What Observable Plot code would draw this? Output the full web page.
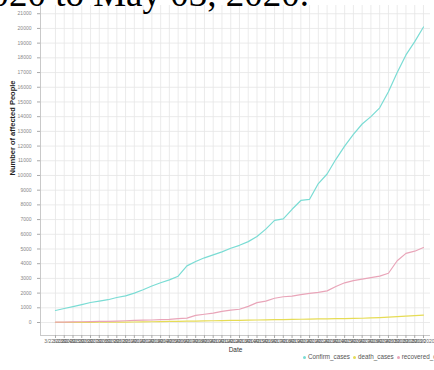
<!DOCTYPE html>
<html>
<head>
<meta charset="utf-8">
<script src="https://cdn.jsdelivr.net/npm/d3@7"></script>
<script src="https://cdn.jsdelivr.net/npm/@observablehq/plot@0.6"></script>
<style>
  html, body { margin: 0; padding: 0; background: #fff; width: 434px; height: 370px; overflow: hidden; position: relative; }
  #title { position: absolute; top: -25px; right: 125px; white-space: nowrap; font-family: "Liberation Serif", serif; font-size: 37px; line-height: 1; color: #000; z-index: 2; }
  #chart { position: absolute; top: 0; left: 0; }
  #legend { position: absolute; top: 353px; left: 300px; white-space: nowrap; font-family: "Liberation Sans", sans-serif; font-size: 6.3px; color: #555; }
  #legend span.sw { display: inline-block; width: 3px; height: 3px; border-radius: 50%; margin: 0 2px 0 3px; vertical-align: middle; }
</style>
</head>
<body>
<div id="title">Number of affected people from March 22, 2020 to May 03, 2020.</div>
<div id="chart"></div>
<div id="legend"></div>
<script>
const dates = ["2020-03-22","2020-03-23","2020-03-24","2020-03-25","2020-03-26","2020-03-27","2020-03-28","2020-03-29","2020-03-30","2020-03-31",
  "2020-04-01","2020-04-02","2020-04-03","2020-04-04","2020-04-05","2020-04-06","2020-04-07","2020-04-08","2020-04-09","2020-04-10",
  "2020-04-11","2020-04-12","2020-04-13","2020-04-14","2020-04-15","2020-04-16","2020-04-17","2020-04-18","2020-04-19","2020-04-20",
  "2020-04-21","2020-04-22","2020-04-23","2020-04-24","2020-04-25","2020-04-26","2020-04-27","2020-04-28","2020-04-29","2020-04-30",
  "2020-05-01","2020-05-02","2020-05-03"];
const confirmCases = [816,950,1080,1220,1360,1460,1550,1700,1810,2000,
  2230,2480,2700,2900,3150,3850,4150,4400,4600,4800,
  5050,5250,5500,5850,6350,6950,7050,7700,8300,8380,
  9450,10100,11100,12000,12800,13500,14000,14600,15700,17000,
  18200,19100,20100];
const deathCases = [5,8,10,12,15,18,20,25,30,35,
  40,50,60,70,80,90,100,110,120,130,
  140,150,160,170,180,190,200,210,220,230,
  240,250,260,270,280,290,310,330,360,400,
  430,470,500];
const recoveredCases = [20,30,40,50,60,70,80,100,120,140,
  160,170,190,210,260,300,480,560,640,760,
  840,900,1100,1350,1450,1650,1750,1800,1900,1980,
  2050,2150,2450,2700,2850,2950,3050,3150,3350,4200,
  4700,4850,5100];
const seriesNames = ["Confirm_cases","death_cases","recovered_cases"];
const seriesColors = ["#7adcd4","#e6dc55","#e9a5b9"];
const yTicks = d3.range(0, 21001, 1000);

const parse = d3.utcParse("%Y-%m-%d");
const dateObjs = dates.map(parse);
const rows = [];
[confirmCases, deathCases, recoveredCases].forEach((arr, k) => {
  arr.forEach((v, i) => rows.push({date: dateObjs[i], value: v, series: seriesNames[k]}));
});
const day = 864e5;
const xDomain = [new Date(+dateObjs[0] - 1.71 * day), new Date(+dateObjs[dateObjs.length - 1] + 0.8 * day)];
const yDomain = [-884, 21560];

const chart = Plot.plot({
  width: 434,
  height: 356,
  marginLeft: 40,
  marginRight: 4,
  marginTop: 5,
  marginBottom: 21,
  style: {fontFamily: "Liberation Sans, sans-serif", fontSize: "5px", background: "transparent", color: "#777"},
  x: {type: "utc", domain: xDomain},
  y: {domain: yDomain},
  color: {domain: seriesNames, range: seriesColors},
  marks: [
    Plot.ruleY(yTicks, {stroke: "#e6e6e6", strokeWidth: 0.8}),
    Plot.ruleX(dateObjs, {stroke: "#e6e6e6", strokeWidth: 0.8}),
    Plot.ruleX([xDomain[0]], {stroke: "#bbb", strokeWidth: 0.8}),
    Plot.ruleY([yDomain[0]], {stroke: "#bbb", strokeWidth: 0.8}),
    Plot.axisY({ticks: yTicks, tickFormat: d => String(d), tickSize: 3, label: null, stroke: "#aaa", fill: "#888"}),
    Plot.axisX({ticks: dateObjs, tickFormat: d3.utcFormat("%-m/%d/%Y"), tickSize: 3, tickPadding: 1, label: null, stroke: "#aaa", fill: "#666"}),
    Plot.line(rows, {x: "date", y: "value", z: "series", stroke: "series", strokeWidth: 1.2}),
    Plot.text(["Number of affected People"], {frameAnchor: "left", dx: -28, dy: 5, rotate: -90, fontSize: 7.5, fontWeight: "bold", fill: "#222"}),
    Plot.text(["Date"], {frameAnchor: "bottom", dy: 16, fontSize: 6.5, fill: "#333"})
  ]
});
document.getElementById("chart").appendChild(chart);

const legend = document.getElementById("legend");
seriesNames.forEach((n, i) => {
  const sw = document.createElement("span");
  sw.className = "sw";
  sw.style.background = seriesColors[i];
  legend.appendChild(sw);
  legend.appendChild(document.createTextNode(n));
});
</script>
</body>
</html>
